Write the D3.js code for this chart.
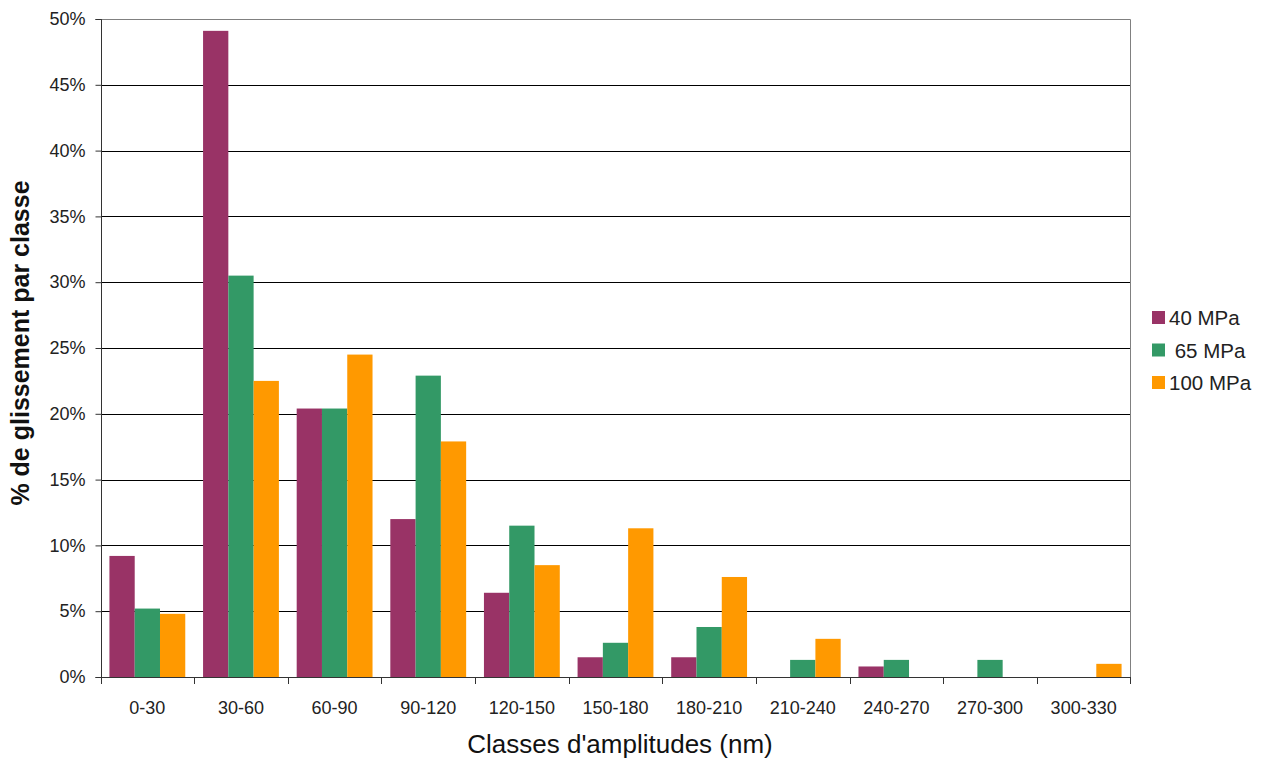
<!DOCTYPE html>
<html><head><meta charset="utf-8">
<script src="https://cdn.jsdelivr.net/npm/d3@7"></script>
<style>body{margin:0;background:#fff;}svg{display:block;font-family:"Liberation Sans",Arial,sans-serif;}</style>
</head><body>
<svg id="c" width="1268" height="758"></svg>
<script>
const categories = ["0-30","30-60","60-90","90-120","120-150","150-180","180-210","210-240","240-270","270-300","300-330"];
const seriesNames = ["40 MPa"," 65 MPa","100 MPa"];
const s40 = [9.2, 49.1, 20.4, 12.0, 6.4, 1.5, 1.5, 0, 0.8, 0, 0];
const s65 = [5.2, 30.5, 20.4, 22.9, 11.5, 2.6, 3.8, 1.3, 1.3, 1.3, 0];
const s100 = [4.8, 22.5, 24.5, 17.9, 8.5, 11.3, 7.6, 2.9, 0, 0, 1.0];
const yTicks = [0,5,10,15,20,25,30,35,40,45,50];
const colors = ["#993366","#339966","#FF9900"];

const series = [s40, s65, s100];
const svg = d3.select("#c");
const L = 101, R = 1130, T = 19, B = 677;
const FONT = "Liberation Sans, Arial, sans-serif";

const x = d3.scaleBand().domain(categories).range([L, R]).paddingInner(0.19).paddingOuter(0.09);
const xs = d3.scaleBand().domain(d3.range(series.length)).range([0, x.bandwidth()]);
const y = d3.scaleLinear().domain([0, 50]).range([B, T]);

// gridlines
svg.append("g").selectAll("line").data(yTicks.filter(d => d > 0 && d < 50)).join("line")
  .attr("x1", L).attr("x2", R).attr("y1", d => Math.round(y(d)) + 0.5).attr("y2", d => Math.round(y(d)) + 0.5)
  .attr("stroke", "#000").attr("stroke-width", 1);
// plot border (top and right)
svg.append("path").attr("d", `M${L},${T + 0.5}H${R + 0.5}V${B}`).attr("fill", "none").attr("stroke", "#808080");

// bars
const g = svg.append("g");
series.forEach((s, si) => {
  g.selectAll(null).data(s.map((v, i) => ({c: categories[i], v}))).join("rect")
    .filter(d => d.v > 0)
    .attr("x", d => x(d.c) + xs(si))
    .attr("width", xs.bandwidth())
    .attr("y", d => y(d.v))
    .attr("height", d => y(0) - y(d.v))
    .attr("fill", colors[si]);
});

// y axis
const yAxis = d3.axisLeft(y).tickValues(yTicks).tickFormat(d => d + "%").tickSize(6).tickPadding(10);
const ya = svg.append("g").attr("transform", `translate(${L + 0.5},0)`).call(yAxis);
ya.select(".domain").attr("stroke", "#333").attr("d", `M-6,${T}.5H0V${B}.5H-6`);
ya.selectAll(".tick line").attr("stroke", "#333");
ya.selectAll(".tick text").attr("font-size", 18).attr("fill", "#222").attr("font-family", FONT);

// x axis
const xAxis = d3.axisBottom(x).tickSize(0).tickPadding(22);
const xa = svg.append("g").attr("transform", `translate(0,${B + 0.5})`).call(xAxis);
xa.select(".domain").attr("stroke", "#333").attr("d", `M${L},0H${R + 0.5}`);
xa.selectAll(".tick text").attr("font-size", 18).attr("fill", "#222").attr("font-family", FONT)
  .attr("dy", null).attr("y", 36);
// x ticks at band boundaries
const step = x.step();
const bounds = categories.map(c => x(c) - (step - x.bandwidth()) / 2).concat([R]);
svg.append("g").selectAll("line").data(bounds).join("line")
  .attr("x1", d => Math.round(d) + 0.5).attr("x2", d => Math.round(d) + 0.5)
  .attr("y1", B).attr("y2", B + 7).attr("stroke", "#333");

// axis titles
svg.append("text").attr("x", 620).attr("y", 753).attr("text-anchor", "middle")
  .attr("font-size", 26).attr("fill", "#111").text("Classes d'amplitudes (nm)");
svg.append("text").attr("transform", "translate(29,343) rotate(-90)").attr("text-anchor", "middle")
  .attr("font-size", 25).attr("font-weight", "bold").attr("fill", "#111").text("% de glissement par classe");

// legend
const lg = svg.append("g").attr("transform", "translate(1152,311)");
seriesNames.forEach((n, i) => {
  const row = lg.append("g").attr("transform", `translate(0,${i * 32.5})`);
  row.append("rect").attr("width", 13).attr("height", 13).attr("fill", colors[i]);
  row.append("text").attr("x", 17).attr("y", 14).attr("font-size", 20.5).attr("fill", "#222")
    .attr("xml:space", "preserve").style("white-space", "pre").text(n);
});
</script>
</body></html>
